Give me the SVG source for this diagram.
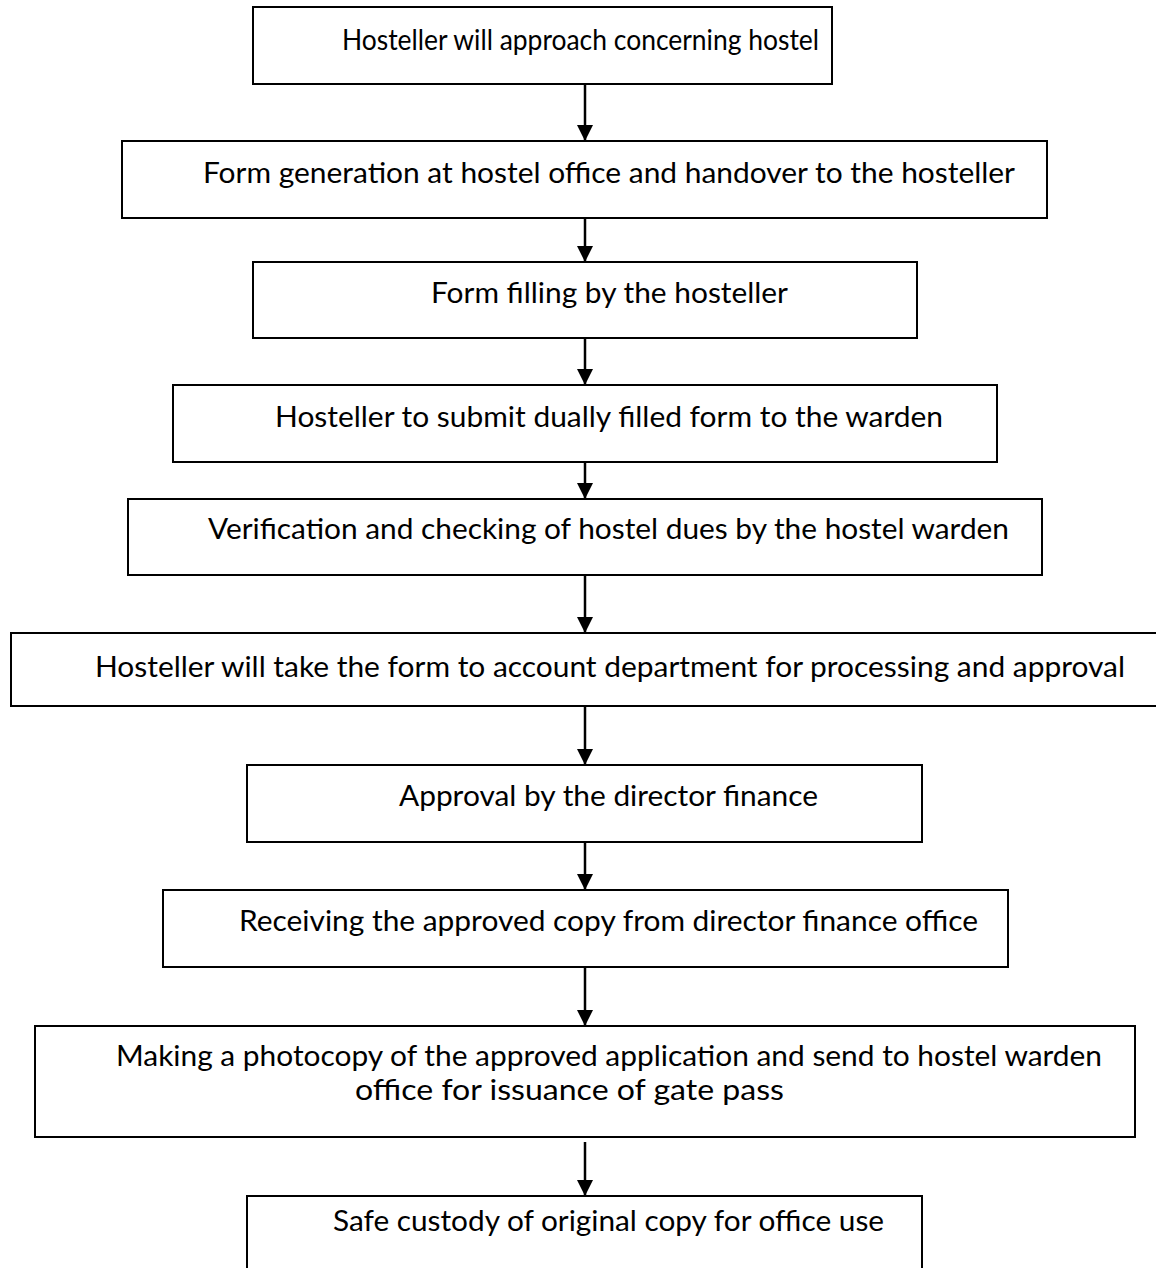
<svg xmlns="http://www.w3.org/2000/svg" width="1156" height="1268" viewBox="0 0 1156 1268">
<style>
.box{fill:#fff;stroke:#000;stroke-width:2}
.t{font-family:Lato,"Open Sans","Liberation Sans",sans-serif;font-size:28px;fill:#000}
.c{stroke:#000;stroke-width:2.5;fill:none;marker-end:url(#ah)}
</style>
<defs>
<marker id="ah" markerWidth="16" markerHeight="16" refX="16" refY="8" orient="auto" markerUnits="userSpaceOnUse" viewBox="0 0 16 16">
<path d="M0,0 L16,8 L0,16 Z" fill="#000"/>
</marker>
</defs>
<rect width="1156" height="1268" fill="#fff"/>
<g id="connectors">
<line class="c" x1="585" y1="85" x2="585" y2="141"/>
<line class="c" x1="585" y1="219" x2="585" y2="262"/>
<line class="c" x1="585" y1="339" x2="585" y2="385"/>
<line class="c" x1="585" y1="463" x2="585" y2="499"/>
<line class="c" x1="585" y1="576" x2="585" y2="633"/>
<line class="c" x1="585" y1="707" x2="585" y2="765"/>
<line class="c" x1="585" y1="843" x2="585" y2="890"/>
<line class="c" x1="585" y1="968" x2="585" y2="1026"/>
<line class="c" x1="585" y1="1142" x2="585" y2="1196"/>
</g>
<g id="n1"><rect class="box" x="253" y="7" width="579" height="77"/><text class="t" x="342" y="50" textLength="477" lengthAdjust="spacingAndGlyphs">Hosteller will approach concerning hostel</text></g>
<g id="n2"><rect class="box" x="122" y="141" width="925" height="77"/><text class="t" x="203" y="183" textLength="812" lengthAdjust="spacingAndGlyphs">Form generation at hostel office and handover to the hosteller</text></g>
<g id="n3"><rect class="box" x="253" y="262" width="664" height="76"/><text class="t" x="431" y="303" textLength="357" lengthAdjust="spacingAndGlyphs">Form filling by the hosteller</text></g>
<g id="n4"><rect class="box" x="173" y="385" width="824" height="77"/><text class="t" x="275" y="427" textLength="668" lengthAdjust="spacingAndGlyphs">Hosteller to submit dually filled form to the warden</text></g>
<g id="n5"><rect class="box" x="128" y="499" width="914" height="76"/><text class="t" x="208" y="539" textLength="801" lengthAdjust="spacingAndGlyphs">Verification and checking of hostel dues by the hostel warden</text></g>
<g id="n6"><rect class="box" x="11" y="633" width="1160" height="73"/><text class="t" x="95" y="677" textLength="1030" lengthAdjust="spacingAndGlyphs">Hosteller will take the form to account department for processing and approval</text></g>
<g id="n7"><rect class="box" x="247" y="765" width="675" height="77"/><text class="t" x="399" y="806" textLength="419" lengthAdjust="spacingAndGlyphs">Approval by the director finance</text></g>
<g id="n8"><rect class="box" x="163" y="890" width="845" height="77"/><text class="t" x="239" y="931" textLength="739" lengthAdjust="spacingAndGlyphs">Receiving the approved copy from director finance office</text></g>
<g id="n9"><rect class="box" x="35" y="1026" width="1100" height="111"/><text class="t" x="116" y="1066" textLength="986" lengthAdjust="spacingAndGlyphs">Making a photocopy of the approved application and send to hostel warden</text><text class="t" x="355" y="1100" textLength="429" lengthAdjust="spacingAndGlyphs">office for issuance of gate pass</text></g>
<g id="n10"><rect class="box" x="247" y="1196" width="675" height="100"/><text class="t" x="333" y="1231" textLength="551" lengthAdjust="spacingAndGlyphs">Safe custody of original copy for office use</text></g>
</svg>
